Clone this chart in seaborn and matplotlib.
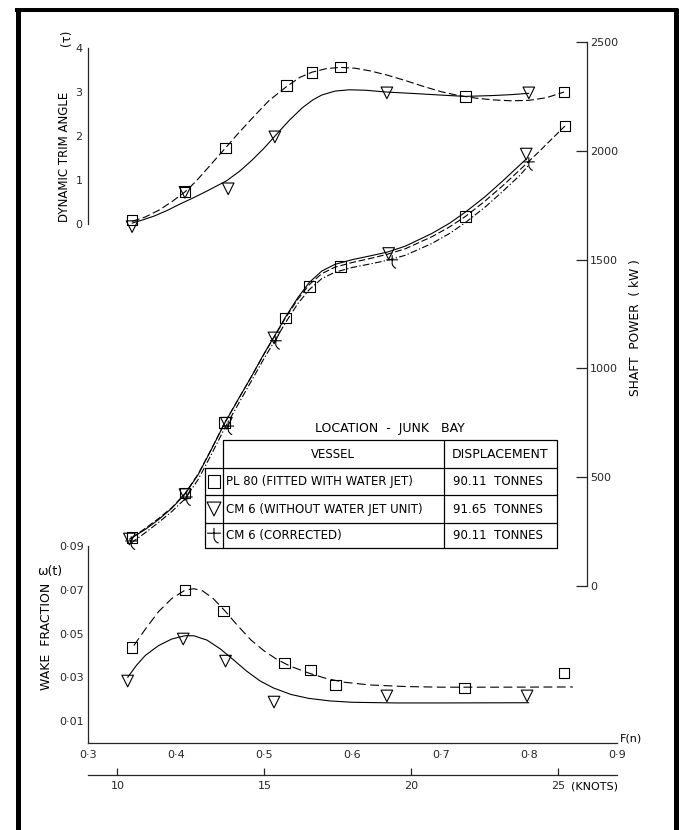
import matplotlib
matplotlib.use("Agg")
import matplotlib.pyplot as plt
from matplotlib.path import Path
from matplotlib.lines import Line2D
import seaborn as sns

# ---------------- data ----------------
fn_ticks = [0.3, 0.4, 0.5, 0.6, 0.7, 0.8, 0.9]
fn_tick_labels = ["0·3", "0·4", "0·5", "0·6", "0·7", "0·8", "0·9"]
knots_ticks = [10, 15, 20, 25]
knots_tick_labels = ["10", "15", "20", "25"]
trim_ticks = [0, 1, 2, 3, 4]
trim_tick_labels = ["0", "1", "2", "3", "4"]
power_ticks = [0, 500, 1000, 1500, 2000, 2500]
power_tick_labels = ["0", "500", "1000", "1500", "2000", "2500"]
wake_ticks = [0.01, 0.03, 0.05, 0.07, 0.09]
wake_tick_labels = ["0·01", "0·03", "0·05", "0·07", "0·09"]

vessels = ["PL 80 (FITTED WITH WATER JET)", "CM 6 (WITHOUT WATER JET UNIT)", "CM 6 (CORRECTED)"]
displacements = ["90.11  TONNES", "91.65  TONNES", "90.11  TONNES"]

# Dynamic trim angle (deg)
trim_pl80_fn = [0.350, 0.410, 0.456, 0.525, 0.554, 0.586, 0.728, 0.840]
trim_pl80_val = [0.09, 0.73, 1.73, 3.14, 3.45, 3.57, 2.89, 3.00]
trim_cm6_fn = [0.350, 0.410, 0.459, 0.512, 0.639, 0.800]
trim_cm6_val = [-0.06, 0.72, 0.80, 1.98, 2.98, 2.98]
trim_pl80_curve_fn = [0.350, 0.365, 0.381, 0.396, 0.410, 0.422, 0.434, 0.445, 0.456, 0.470,
                      0.487, 0.505, 0.525, 0.540, 0.554, 0.570, 0.586, 0.603, 0.620, 0.640,
                      0.660, 0.680, 0.700, 0.720, 0.740, 0.760, 0.780, 0.800, 0.820, 0.840]
trim_pl80_curve_val = [0.06, 0.16, 0.32, 0.52, 0.73, 0.96, 1.23, 1.48, 1.73, 2.05,
                       2.42, 2.80, 3.12, 3.33, 3.45, 3.53, 3.56, 3.54, 3.48, 3.38,
                       3.26, 3.13, 3.01, 2.92, 2.86, 2.82, 2.80, 2.81, 2.87, 3.00]
trim_cm6_curve_fn = [0.350, 0.360, 0.375, 0.390, 0.405, 0.420, 0.435, 0.457, 0.472, 0.486,
                     0.500, 0.513, 0.528, 0.543, 0.555, 0.565, 0.580, 0.596, 0.615, 0.638,
                     0.675, 0.700, 0.728, 0.760, 0.780, 0.800]
trim_cm6_curve_val = [0.02, 0.08, 0.18, 0.31, 0.46, 0.60, 0.75, 0.98, 1.20, 1.45,
                      1.73, 2.02, 2.35, 2.64, 2.82, 2.93, 3.02, 3.05, 3.04, 3.00,
                      2.96, 2.93, 2.90, 2.92, 2.94, 2.97]

# Shaft power (kW)
pow_pl80_fn = [0.350, 0.410, 0.455, 0.524, 0.551, 0.586, 0.728, 0.841]
pow_pl80_kw = [222, 427, 752, 1232, 1378, 1468, 1698, 2114]
pow_cm6_fn = [0.347, 0.410, 0.457, 0.511, 0.641, 0.797]
pow_cm6_kw = [216, 420, 748, 1140, 1528, 1985]
pow_corr_fn = [0.349, 0.412, 0.459, 0.513, 0.645, 0.800]
pow_corr_kw = [198, 400, 726, 1118, 1490, 1940]
pow_curve_fn = [0.350, 0.365, 0.380, 0.395, 0.410, 0.425, 0.440, 0.455, 0.470, 0.485,
                0.500, 0.512, 0.524, 0.538, 0.551, 0.565, 0.580, 0.600, 0.620, 0.640,
                0.660, 0.690, 0.710, 0.728, 0.750, 0.770, 0.790, 0.810, 0.841]
pow_pl80_curve_kw = [222, 265, 310, 360, 425, 515, 630, 750, 855, 960,
                     1068, 1150, 1232, 1318, 1385, 1435, 1465, 1487, 1505, 1525,
                     1550, 1605, 1650, 1698, 1768, 1838, 1913, 1990, 2114]
pow_cm6_curve_fn = [0.347, 0.365, 0.380, 0.395, 0.410, 0.425, 0.440, 0.455, 0.470, 0.485,
                    0.500, 0.512, 0.524, 0.538, 0.551, 0.565, 0.580, 0.600, 0.620, 0.640,
                    0.660, 0.690, 0.710, 0.728, 0.750, 0.770, 0.797]
pow_cm6_curve_kw = [215, 260, 305, 357, 422, 512, 628, 748, 855, 960,
                    1070, 1152, 1236, 1325, 1395, 1447, 1478, 1500, 1517, 1535,
                    1562, 1620, 1667, 1718, 1788, 1860, 1962]
pow_corr_curve_fn = [0.349, 0.365, 0.380, 0.395, 0.410, 0.425, 0.440, 0.455, 0.470, 0.485,
                     0.500, 0.512, 0.524, 0.538, 0.551, 0.565, 0.580, 0.600, 0.620, 0.640,
                     0.660, 0.690, 0.710, 0.728, 0.750, 0.770, 0.790, 0.800]
pow_corr_curve_kw = [198, 245, 292, 342, 400, 490, 605, 725, 833, 940,
                     1048, 1128, 1210, 1298, 1362, 1412, 1442, 1464, 1480, 1497,
                     1520, 1574, 1620, 1670, 1740, 1812, 1888, 1935]

# Wake fraction
wake_pl80_fn = [0.350, 0.410, 0.454, 0.523, 0.552, 0.581, 0.727, 0.840]
wake_pl80_val = [0.0438, 0.0699, 0.0603, 0.0365, 0.0333, 0.0265, 0.0251, 0.0320]
wake_cm6_fn = [0.345, 0.408, 0.456, 0.511, 0.639, 0.798]
wake_cm6_val = [0.0283, 0.0475, 0.0374, 0.0187, 0.0215, 0.0215]
wake_pl80_curve_fn = [0.352, 0.365, 0.380, 0.395, 0.410, 0.420, 0.430, 0.442, 0.455, 0.470,
                      0.485, 0.500, 0.515, 0.530, 0.550, 0.570, 0.590, 0.620, 0.660, 0.700,
                      0.760, 0.850]
wake_pl80_curve_val = [0.0445, 0.0520, 0.0600, 0.0660, 0.0698, 0.0705, 0.0695, 0.0660, 0.0605, 0.0535,
                       0.0470, 0.0420, 0.0380, 0.0350, 0.0320, 0.0295, 0.0278, 0.0265, 0.0258, 0.0255,
                       0.0255, 0.0256]
wake_cm6_curve_fn = [0.345, 0.355, 0.365, 0.380, 0.395, 0.410, 0.420, 0.435, 0.450, 0.465,
                     0.480, 0.495, 0.510, 0.530, 0.550, 0.575, 0.600, 0.650, 0.700, 0.800]
wake_cm6_curve_val = [0.0300, 0.0355, 0.0400, 0.0445, 0.0475, 0.0490, 0.0490, 0.0470, 0.0430, 0.0380,
                      0.0328, 0.0284, 0.0252, 0.0222, 0.0204, 0.0192, 0.0186, 0.0183, 0.0183, 0.0184]

# ---------------- style ----------------
sns.set_style("white")
plt.rcParams["font.family"] = ["DejaVu Sans"]
plt.rcParams["font.size"] = 8
plt.rcParams["axes.linewidth"] = 0.9
plt.rcParams["text.color"] = "black"

K = "black"
LW = 0.8
DASH = [7, 3]
DASHDOT = [6, 2, 1.2, 2]
TICK_FS = 8

corr_marker = Path([(-0.9, 0.3), (0.9, 0.3), (0.0, 1.0), (0.0, -0.3), (0.1, -0.85), (0.6, -1.0)],
                   [Path.MOVETO, Path.LINETO, Path.MOVETO, Path.LINETO, Path.CURVE3, Path.CURVE3])

fig = plt.figure(figsize=(6.79, 8.30), dpi=100)
W, H = 679.0, 830.0


def add_axes_px(x0, x1, ytop, ybot):
    return fig.add_axes([x0 / W, (H - ybot) / H, (x1 - x0) / W, (ybot - ytop) / H])


ax_trim = add_axes_px(88, 617, 48, 224)
ax_pow = add_axes_px(88, 617, 42, 586)
ax_wake = add_axes_px(88, 617, 546, 743)
for a in (ax_trim, ax_pow, ax_wake):
    a.patch.set_alpha(0)
    a.set_xlim(0.3, 0.9)
    for s in a.spines.values():
        s.set_visible(False)


def curve(ax, x, y, dashes=None):
    sns.lineplot(x=x, y=y, ax=ax, color=K, linewidth=LW, sort=False, estimator=None)
    ln = ax.lines[-1]
    ln.set_clip_on(False)
    if dashes is not None:
        ln.set_dashes(dashes)


def marks(ax, x, y, marker, s):
    sns.scatterplot(x=x, y=y, ax=ax, marker=marker, s=s, facecolors="none",
                    edgecolor=K, linewidth=0.8, zorder=4, clip_on=False)


# ---- trim angle ----
ax_trim.set_ylim(0, 4)
curve(ax_trim, trim_pl80_curve_fn, trim_pl80_curve_val, DASH)
curve(ax_trim, trim_cm6_curve_fn, trim_cm6_curve_val)
marks(ax_trim, trim_pl80_fn, trim_pl80_val, "s", 60)
marks(ax_trim, trim_cm6_fn, trim_cm6_val, "v", 70)
ax_trim.spines["left"].set_visible(True)
ax_trim.set_xticks([])
ax_trim.set_yticks(trim_ticks)
ax_trim.set_yticklabels(trim_tick_labels)
ax_trim.tick_params(axis="y", direction="in", length=6, width=0.9, pad=4, labelsize=TICK_FS)

# ---- shaft power ----
ax_pow.set_ylim(0, 2500)
curve(ax_pow, pow_curve_fn, pow_pl80_curve_kw, [6, 2.5])
curve(ax_pow, pow_cm6_curve_fn, pow_cm6_curve_kw)
curve(ax_pow, pow_corr_curve_fn, pow_corr_curve_kw, DASHDOT)
marks(ax_pow, pow_pl80_fn, pow_pl80_kw, "s", 60)
marks(ax_pow, pow_cm6_fn, pow_cm6_kw, "v", 70)
marks(ax_pow, pow_corr_fn, pow_corr_kw, corr_marker, 90)
ax_pow.spines["right"].set_visible(True)
ax_pow.spines["right"].set_position(("axes", (587 - 88) / (617 - 88)))
ax_pow.yaxis.tick_right()
ax_pow.set_xticks([])
ax_pow.set_yticks(power_ticks)
ax_pow.set_yticklabels(power_tick_labels)
ax_pow.tick_params(axis="y", direction="in", length=8, width=0.9, pad=2, labelsize=TICK_FS)

# ---- wake fraction ----
ax_wake.set_ylim(0, 0.09)
curve(ax_wake, wake_pl80_curve_fn, wake_pl80_curve_val, [8, 4])
curve(ax_wake, wake_cm6_curve_fn, wake_cm6_curve_val)
marks(ax_wake, wake_pl80_fn, wake_pl80_val, "s", 60)
marks(ax_wake, wake_cm6_fn, wake_cm6_val, "v", 70)
ax_wake.spines["left"].set_visible(True)
ax_wake.spines["bottom"].set_visible(True)
ax_wake.set_yticks(wake_ticks)
ax_wake.set_yticklabels(wake_tick_labels)
ax_wake.set_xticks(fn_ticks)
ax_wake.set_xticklabels(fn_tick_labels)
ax_wake.tick_params(axis="y", direction="in", length=7, width=0.9, pad=3, labelsize=TICK_FS)
ax_wake.tick_params(axis="x", direction="in", length=7, width=0.9, pad=5, labelsize=TICK_FS)

sec = ax_wake.secondary_xaxis(-(775 - 743) / (743 - 546),
                              functions=(lambda f: f * 30.0, lambda k: k / 30.0))
sec.set_xticks(knots_ticks)
sec.set_xticklabels(knots_tick_labels)
sec.tick_params(direction="in", length=5, width=0.9, pad=4, labelsize=TICK_FS)
sec.spines["bottom"].set_linewidth(0.9)

for a in (ax_trim, ax_pow, ax_wake):
    a.set_xlabel("")
    a.set_ylabel("")

# ---------------- overlay: frame, labels, legend table ----------------
ov = fig.add_axes([0, 0, 1, 1], zorder=10)
ov.set_xlim(0, W)
ov.set_ylim(H, 0)
ov.axis("off")
ov.patch.set_alpha(0)

# frame
ov.add_line(Line2D([17.5, 17.5], [8, H], color=K, lw=3.6, solid_capstyle="butt"))
ov.add_line(Line2D([15, 678], [10, 10], color=K, lw=2.9, solid_capstyle="butt"))
ov.add_line(Line2D([675.5, 675.5], [8, H], color=K, lw=3.6, solid_capstyle="butt"))

ov.text(65, 157, "DYNAMIC TRIM ANGLE", rotation=90, ha="center", va="center", fontsize=8.5)
ov.text(67, 38, "(τ)", rotation=90, ha="center", va="center", fontsize=8.5)
ov.text(635, 328, "SHAFT  POWER  ( kW )", rotation=90, ha="center", va="center", fontsize=8.8)
ov.text(47, 636, "WAKE  FRACTION", rotation=90, ha="center", va="center", fontsize=9)
ov.text(50, 571, "ω(t)", ha="center", va="center", fontsize=9)
ov.text(620, 738, "F(n)", ha="left", va="center", fontsize=8)
ov.text(571, 786, "(KNOTS)", ha="left", va="center", fontsize=8)

# legend table
ov.text(390, 428, "LOCATION  -  JUNK   BAY", ha="center", va="center", fontsize=9)
tlw = 0.9
ov.add_line(Line2D([223, 557, 557, 223, 223], [440, 440, 548, 548, 440], color=K, lw=tlw))
ov.add_line(Line2D([205, 205, 223], [468, 548, 548], color=K, lw=tlw))
ov.add_line(Line2D([444, 444], [440, 548], color=K, lw=tlw))
for yy in (468, 495, 523):
    ov.add_line(Line2D([205, 557], [yy, yy], color=K, lw=tlw))
ov.text(333, 454, "VESSEL", ha="center", va="center", fontsize=8.5)
ov.text(500, 454, "DISPLACEMENT", ha="center", va="center", fontsize=9)
row_y = [481.5, 509, 535.5]
for yy, v, d in zip(row_y, vessels, displacements):
    ov.text(226, yy, v, ha="left", va="center", fontsize=8.5)
    ov.text(498, yy, d, ha="center", va="center", fontsize=8.5)
ov.scatter([214], [row_y[0]], marker="s", s=85, facecolors="none", edgecolors=K, linewidths=0.8)
ov.scatter([214], [row_y[1]], marker="v", s=100, facecolors="none", edgecolors=K, linewidths=0.8)
ov.scatter([214], [row_y[2]], marker=corr_marker, s=120, facecolors="none", edgecolors=K, linewidths=0.8)

fig.savefig("out.png", dpi=100, facecolor="white")
